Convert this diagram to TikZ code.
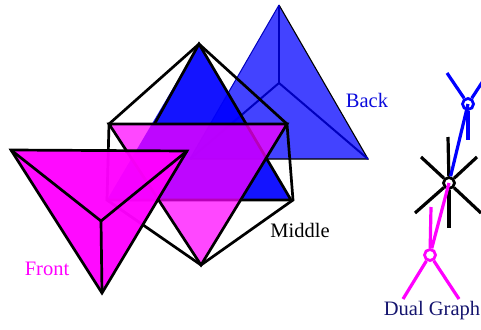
\documentclass[tikz,border=0pt]{standalone}
\usepackage{fontspec}
\setmainfont{Liberation Serif}
\definecolor{backblue}{RGB}{20,20,255}
\definecolor{spokeblue}{RGB}{0,0,190}
\definecolor{midblue}{RGB}{0,0,255}
\definecolor{dualnavy}{RGB}{20,20,110}
\definecolor{fuchsia}{RGB}{255,0,255}
\definecolor{labelblue}{RGB}{10,10,220}
\tikzset{
    backface/.style={fill=backblue, fill opacity=0.8},
    backspoke/.style={draw=spokeblue, line width=2pt},
    midface/.style={fill=midblue, fill opacity=0.92},
    midmagenta/.style={fill=fuchsia, fill opacity=0.72},
    frontface/.style={fill=fuchsia, fill opacity=0.96},
    wire/.style={draw=black, line width=2.7pt, line join=miter},
    lbl/.style={font=\fontsize{20.5}{22}\selectfont, inner sep=0pt},
    dualnode/.style={circle, draw=#1, fill=white, line width=2.8pt, minimum size=11pt, inner sep=0pt},
    dualedge/.style={draw=#1, line width=3.2pt}
}
\begin{document}
\begin{tikzpicture}[x=1pt, y=-1pt]
    \useasboundingbox (0,0) rectangle (481,329);
    % back face
    \coordinate (ba) at (279,5);
    \coordinate (bl) at (190,159);
    \coordinate (br) at (368,159);
    \coordinate (bc) at (279,83);
    \fill[backface] (ba) -- (bl) -- (br) -- cycle;
    \draw[backspoke, line width=1pt] (ba) -- (bl);
    \draw[line width=1.1pt] (ba) -- (br) -- (bl);
    \draw[backspoke] (bc) -- (ba);
    \draw[backspoke] (bc) -- (bl);
    \draw[backspoke] (bc) -- (br);
    % middle faces and hull
    \coordinate (mt) at (199,44);
    \coordinate (ml) at (107,200);
    \coordinate (mr) at (291,200);
    \coordinate (mtl) at (109,124);
    \coordinate (mtr) at (287,124);
    \coordinate (mb) at (201,265);
    \coordinate (mlh) at (154.5,124);
    \fill[midface] (mt) -- (ml) -- (mr) -- cycle;
    \draw[wire] (mlh) -- (mt) -- (mr) -- (ml);
    \draw[wire] (mt) -- (mtr) -- (293,200) -- (mb) -- (ml) -- (mtl) -- cycle;
    \fill[midmagenta] (mtl) -- (mtr) -- (mb) -- cycle;
    \draw[wire] (mtl) -- (mtr) -- (mb) -- cycle;
    % front face
    \coordinate (fl) at (11,150);
    \coordinate (fr) at (187,151);
    \coordinate (fb) at (102,293);
    \coordinate (fc) at (101,221);
    \fill[frontface] (fl) -- (fr) -- (fb) -- cycle;
    \draw[wire] (fl) -- (fr) -- (fb) -- cycle;
    \draw[wire] (fc) -- (fl);
    \draw[wire] (fc) -- (fr);
    \draw[wire] (fc) -- (fb);
    % labels
    \node[lbl, text=labelblue] (lback) at (367,100) {Back};
    \node[lbl, text=fuchsia] (lfront) at (47,269) {Front};
    \node[lbl, text=black] (lmiddle) at (300,230) {Middle};
    \node[lbl, text=dualnavy] (ldual) at (432,311) {Dual Graph};
    % dual graph
    \node[dualnode=blue] (dback) at (468,104) {};
    \node[dualnode=black] (dmid) at (449,183) {};
    \node[dualnode=fuchsia] (dfront) at (430,255) {};
    \coordinate (ba1) at (447,73);
    \coordinate (ba2) at (483,81);
    \coordinate (ba3) at (468,140);
    \coordinate (mi1) at (448,137);
    \coordinate (mi2) at (421,157);
    \coordinate (mi3) at (477,157);
    \coordinate (mi4) at (415,213);
    \coordinate (mi5) at (481,213);
    \coordinate (mi6) at (449,228);
    \coordinate (fr1) at (431,207);
    \coordinate (fr2) at (403,299);
    \coordinate (fr3) at (459,299);
    \foreach \p in {ba1,ba2,ba3} \draw[dualedge=blue] (dback) -- (\p);
    \foreach \p in {mi1,mi2,mi3,mi4,mi5,mi6} \draw[dualedge=black] (dmid) -- (\p);
    \foreach \p in {fr1,fr2,fr3} \draw[dualedge=fuchsia] (dfront) -- (\p);
    \draw[dualedge=blue] (dback.center) -- (dmid);
    \draw[dualedge=fuchsia] (dfront) -- (dmid.center);
\end{tikzpicture}
\end{document}
